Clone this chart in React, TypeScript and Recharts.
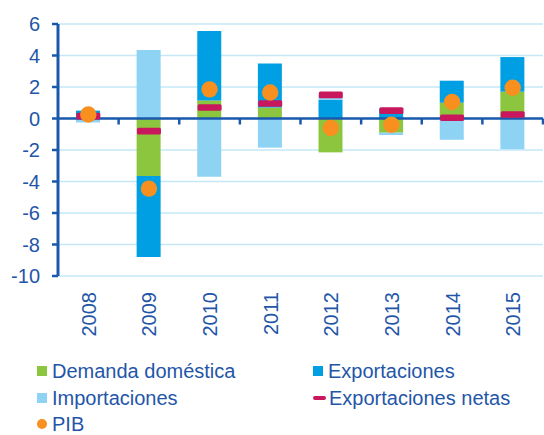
import React from 'react';
import {
  ComposedChart,
  Bar,
  Line,
  XAxis,
  YAxis,
  CartesianGrid,
  ReferenceLine,
  Legend,
} from 'recharts';

const years = ['2008', '2009', '2010', '2011', '2012', '2013', '2014', '2015'];
const demandaDomestica = [0.1, -3.65, 1.15, 0.7, -2.15, -0.9, 1.0, 1.7];
const exportaciones = [0.4, -5.15, 4.4, 2.8, 1.2, 0.65, 1.4, 2.2];
const importaciones = [-0.25, 4.35, -3.7, -1.85, 0.3, -0.15, -1.35, -1.95];
const exportacionesNetas = [0.15, -0.8, 0.7, 0.95, 1.5, 0.5, 0.05, 0.25];
const pib = [0.25, -4.45, 1.85, 1.65, -0.6, -0.4, 1.05, 1.95];
const yTicks = [-10, -8, -6, -4, -2, 0, 2, 4, 6];

const data = years.map((year, i) => ({
  year,
  domestica: demandaDomestica[i],
  exportaciones: exportaciones[i],
  importaciones: importaciones[i],
  netas: exportacionesNetas[i],
  pib: pib[i],
}));

const TEXT = '#1f56a8';
const AXIS = '#1a58ad';
const GREEN = '#8cc63f';
const BLUE = '#009fe3';
const LIGHT = '#8ed3f3';
const RED = '#c9175e';
const ORANGE = '#f7901e';
const FONT = '"Liberation Sans", Arial, sans-serif';

const XTick = (props: any) => {
  const { x, y, payload } = props;
  const ty = y + 14;
  return (
    <text
      x={x}
      y={ty}
      transform={`rotate(-90, ${x}, ${ty})`}
      textAnchor="end"
      dy={7.5}
      fill={TEXT}
      fontSize={20}
      fontFamily={FONT}
    >
      {payload.value}
    </text>
  );
};

// zero line with category boundary ticks
const ZeroLine = (props: any) => {
  const { x1, y1, x2 } = props;
  const step = (x2 - x1) / years.length;
  return (
    <g>
      <line x1={x1} y1={y1} x2={x2} y2={y1} stroke={AXIS} strokeWidth={2.5} />
      {years.map((_, i) => (
        <line
          key={i}
          x1={x1 + step * (i + 1)}
          x2={x1 + step * (i + 1)}
          y1={y1}
          y2={y1 + 6}
          stroke={AXIS}
          strokeWidth={2.5}
        />
      ))}
    </g>
  );
};

const NetDash = (props: any) => {
  const { cx, cy } = props;
  if (cx == null || cy == null) return null;
  return <rect x={cx - 12} y={cy - 3.3} width={24} height={6.6} rx={1.5} fill={RED} />;
};

const PibDot = (props: any) => {
  const { cx, cy } = props;
  if (cx == null || cy == null) return null;
  return <circle cx={cx} cy={cy} r={8.2} fill={ORANGE} />;
};

const legendItems = [
  { label: 'Demanda doméstica', kind: 'square', color: GREEN },
  { label: 'Exportaciones', kind: 'square', color: BLUE },
  { label: 'Importaciones', kind: 'square', color: LIGHT },
  { label: 'Exportaciones netas', kind: 'dash', color: RED },
  { label: 'PIB', kind: 'dot', color: ORANGE },
];

const LegendBox = () => (
  <div
    style={{
      display: 'grid',
      gridTemplateColumns: '276px 230px',
      gridTemplateRows: '20px 20px 20px',
      rowGap: 6.5,
      paddingLeft: 37,
      paddingTop: 11,
      height: 85,
      overflow: 'visible',
      boxSizing: 'border-box',
      fontFamily: FONT,
      fontSize: 20,
      color: TEXT,
      lineHeight: '20px',
    }}
  >
    {legendItems.map((it) => (
      <div key={it.label} style={{ display: 'flex', alignItems: 'center', whiteSpace: 'nowrap' }}>
        <span
          style={{
            display: 'inline-block',
            width: it.kind === 'dash' ? 13 : 10,
            height: it.kind === 'dash' ? 4 : 10,
            borderRadius: it.kind === 'dot' ? 5 : it.kind === 'dash' ? 2 : 0,
            background: it.color,
            marginRight: it.kind === 'dash' ? 3 : 5,
          }}
        />
        {it.label}
      </div>
    ))}
  </div>
);

export default function App() {
  return (
    <div style={{ position: 'absolute', left: 0, top: 0, background: '#fff' }}>
      <ComposedChart
        width={544}
        height={435}
        data={data}
        stackOffset="sign"
        margin={{ top: 24, right: 1, bottom: 0, left: 0 }}
      >
        <CartesianGrid vertical={false} stroke="#c5e8f7" strokeWidth={1.5} />
        <XAxis
          dataKey="year"
          axisLine={false}
          tickLine={false}
          tickSize={0}
          height={74}
          interval={0}
          tick={<XTick />}
        />
        <YAxis
          domain={[-10, 6]}
          ticks={yTicks}
          interval={0}
          width={58}
          axisLine={{ stroke: AXIS, strokeWidth: 3 }}
          tickLine={{ stroke: AXIS, strokeWidth: 2.5 }}
          tickSize={6}
          tickMargin={12}
          tick={{ fill: TEXT, fontSize: 20, fontFamily: FONT }}
        />
        <Bar dataKey="domestica" stackId="a" fill={GREEN} barSize={24} isAnimationActive={false} />
        <Bar dataKey="exportaciones" stackId="a" fill={BLUE} barSize={24} isAnimationActive={false} />
        <Bar dataKey="importaciones" stackId="a" fill={LIGHT} barSize={24} isAnimationActive={false} />
        <ReferenceLine y={0} shape={<ZeroLine />} />
        <Line
          dataKey="netas"
          stroke="none"
          dot={<NetDash />}
          activeDot={false}
          isAnimationActive={false}
        />
        <Line
          dataKey="pib"
          stroke="none"
          dot={<PibDot />}
          activeDot={false}
          isAnimationActive={false}
        />
        <Legend verticalAlign="bottom" content={<LegendBox />} />
      </ComposedChart>
    </div>
  );
}
